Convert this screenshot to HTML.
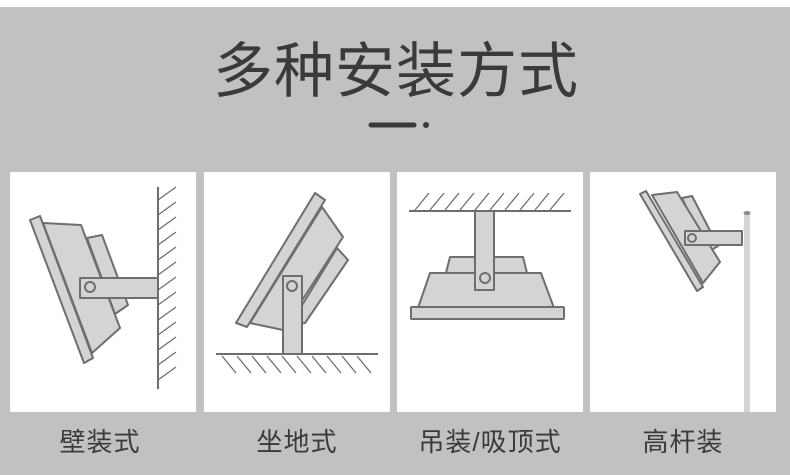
<!DOCTYPE html>
<html><head><meta charset="utf-8"><style>
body{margin:0;width:790px;height:475px;overflow:hidden;background:#fff;}
svg{display:block}
text{font-family:"Liberation Sans","Noto Sans CJK SC",sans-serif;fill:#3a3a3a}
</style></head><body>
<svg width="790" height="475" viewBox="0 0 790 475" xmlns="http://www.w3.org/2000/svg">
<rect x="0" y="7" width="790" height="468" fill="#c1c1c1"/>
<text x="396" y="92" font-size="60" text-anchor="middle" letter-spacing="1">多种安装方式</text>
<line x1="371" y1="125" x2="414" y2="125" stroke="#3a3a3a" stroke-width="5" stroke-linecap="round"/>
<circle cx="426" cy="125" r="3" fill="#3a3a3a"/>
<rect x="10" y="172" width="186" height="240" fill="#fff"/>
<rect x="204" y="172" width="186" height="240" fill="#fff"/>
<rect x="397" y="172" width="186" height="240" fill="#fff"/>
<rect x="590" y="172" width="186" height="240" fill="#fff"/>
<g stroke="#6e6e6e" stroke-width="2" fill="#d6d3d3" stroke-linejoin="round">
<line x1="158" y1="187" x2="158" y2="389" fill="none"/>
<g fill="none" stroke-width="1.3">
<path d="M158 200 L176 187 M158 215 L176 202 M158 230 L176 217 M158 245 L176 232 M158 260 L176 247 M158 275 L176 262 M158 290 L176 277 M158 305 L176 292 M158 320 L176 307 M158 335 L176 322 M158 350 L176 337 M158 365 L176 352 M158 380 L176 367"/>
</g>
<polygon points="87,238 102,235 128,305 115,314"/>
<polygon points="43,223 81,225 120,328 92,353"/>
<polygon points="30,220 40,216 93,358 84,363"/>
<rect x="80" y="278" width="78" height="20"/>
<circle cx="90" cy="287" r="5"/>
<line x1="216" y1="354" x2="378" y2="354" fill="none"/>
<g fill="none" stroke-width="1.3">
<path d="M222 356 L236 373 M237 356 L251 373 M252 356 L266 373 M267 356 L281 373 M282 356 L296 373 M297 356 L311 373 M312 356 L326 373 M327 356 L341 373 M342 356 L356 373 M357 356 L371 373"/>
</g>
<polygon points="337,248 348,260 305,323 290,325"/>
<polygon points="322,207 343,237 283,330 250,323"/>
<polygon points="315,193 325,200 247,327 236,323"/>
<rect x="283" y="276" width="19" height="78"/>
<circle cx="292" cy="286" r="5"/>
<line x1="409" y1="211" x2="571" y2="211" fill="none"/>
<g fill="none" stroke-width="1.3">
<path d="M415 210 L429 193 M430 210 L444 193 M445 210 L459 193 M460 210 L474 193 M475 210 L489 193 M490 210 L504 193 M505 210 L519 193 M520 210 L534 193 M535 210 L549 193 M550 210 L564 193"/>
</g>
<polygon points="450,257 523,257 527,273 446,273"/>
<polygon points="430,273 541,273 554,308 418,308"/>
<rect x="411" y="307" width="153" height="12" rx="1"/>
<rect x="475" y="211" width="19" height="79"/>
<circle cx="485" cy="278" r="5"/>
<rect x="744" y="213" width="6" height="199" fill="#d6d3d3" stroke="none"/>
<ellipse cx="747" cy="213" rx="3.5" ry="2" fill="#8a8a8a" stroke="none"/>
<polygon points="682,198 692,196 718,246 708,252"/>
<polygon points="652,195 677,192 720,262 703,283"/>
<polygon points="640,194 646,191 703,287 697,291"/>
<rect x="685" y="231" width="57" height="14"/>
<circle cx="692" cy="238" r="4"/>
</g>
<g font-size="26" letter-spacing="1">
<text x="100" y="451" text-anchor="middle">壁装式</text>
<text x="297" y="451" text-anchor="middle">坐地式</text>
<text x="490" y="451" text-anchor="middle">吊装/吸顶式</text>
<text x="683" y="451" text-anchor="middle">高杆装</text>
</g>
</svg>
</body></html>
